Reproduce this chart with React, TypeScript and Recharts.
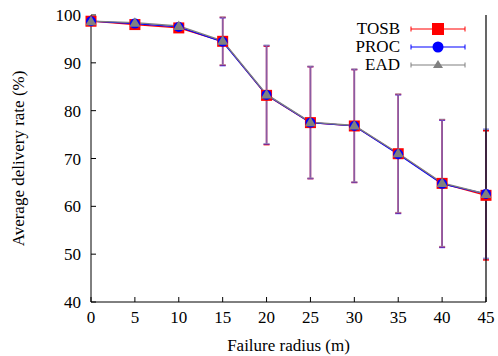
import { LineChart, Line, XAxis, YAxis, ErrorBar, Legend, ReferenceLine } from "recharts";

const radius = [0, 5, 10, 15, 20, 25, 30, 35, 40, 45];
const tosb = [98.7, 98.0, 97.3, 94.5, 83.2, 77.5, 76.8, 71.0, 64.8, 62.3];
const proc = [98.7, 98.2, 97.5, 94.4, 83.3, 77.5, 76.8, 70.9, 64.7, 62.6];
const ead = [98.7, 98.4, 97.7, 94.6, 83.4, 77.6, 76.9, 71.1, 64.9, 62.6];
const spread = [0.4, 0.5, 0.5, 5.0, 10.3, 11.7, 11.8, 12.4, 13.3, 13.5];

const xTicks = [0, 5, 10, 15, 20, 25, 30, 35, 40, 45];
const yTicks = [40, 50, 60, 70, 80, 90, 100];

const data = radius.map((r, i) => ({
  r,
  tosb: tosb[i],
  proc: proc[i],
  ead: ead[i],
  err: spread[i],
}));

const FONT = "Liberation Serif";

const XTick = (p: any) => (
  <text x={p.x} y={p.y + 12} textAnchor="middle" fontSize={17} fontFamily={FONT} fill="#000">
    {p.payload.value}
  </text>
);
const YTick = (p: any) => (
  <text x={p.x} y={p.y + 6} textAnchor="end" fontSize={17} fontFamily={FONT} fill="#000">
    {p.payload.value}
  </text>
);

const Square = (p: any) => (
  <rect key={p.index} x={p.cx - 5.5} y={p.cy - 5.5} width={11} height={11} fill="#ff0000" />
);
const Circle = (p: any) => <circle key={p.index} cx={p.cx} cy={p.cy} r={5} fill="#0000ff" />;
const Triangle = (p: any) => (
  <path key={p.index} d={`M${p.cx},${p.cy - 5.5} L${p.cx + 5.5},${p.cy + 4} L${p.cx - 5.5},${p.cy + 4} Z`} fill="#808080" />
);

const legendRows = [
  { name: "TOSB", color: "#ff0000", mark: "square" },
  { name: "PROC", color: "#0000ff", mark: "circle" },
  { name: "EAD", color: "#808080", mark: "triangle" },
];

function LegendBox() {
  return (
    <div style={{ fontFamily: FONT, fontSize: 17, color: "#000" }}>
      {legendRows.map((row) => (
        <div key={row.name} style={{ display: "flex", alignItems: "center", height: 18 }}>
          <span style={{ width: 80, textAlign: "right", lineHeight: "18px" }}>{row.name}</span>
          <svg width={66} height={18} style={{ marginLeft: 10 }}>
            <line x1={1} y1={9} x2={55} y2={9} stroke={row.color} strokeWidth={1.2} />
            <line x1={1} y1={6.5} x2={1} y2={11.5} stroke={row.color} strokeWidth={1} />
            <line x1={55} y1={6.5} x2={55} y2={11.5} stroke={row.color} strokeWidth={1} />
            {row.mark === "square" && <rect x={22} y={3} width={12} height={12} fill={row.color} />}
            {row.mark === "circle" && <circle cx={28} cy={9} r={5.5} fill={row.color} />}
            {row.mark === "triangle" && <path d="M28,4 L33,12 L23,12 Z" fill={row.color} />}
          </svg>
        </div>
      ))}
    </div>
  );
}

export default function App() {
  return (
    <div style={{ position: "absolute", left: 0, top: 0, width: 498, height: 356, background: "#fff" }}>
      <LineChart width={498} height={356} data={data} margin={{ top: 15, right: 12, left: 0, bottom: 0 }}>
        <XAxis
          dataKey="r"
          type="number"
          domain={[0, 45]}
          ticks={xTicks}
          height={54}
          stroke="#000"
          tickSize={-5}
          tickMargin={14}
          tick={XTick}
          label={{
            content: ({ viewBox }: any) => (
              <text x={viewBox.x + viewBox.width / 2} y={351} textAnchor="middle" fontSize={17} fontFamily={FONT} fill="#000">
                Failure radius (m)
              </text>
            ),
          }}
        />
        <XAxis
          xAxisId="top"
          orientation="top"
          dataKey="r"
          type="number"
          domain={[0, 45]}
          ticks={xTicks}
          height={0}
          stroke="#000"
          tickSize={-5}
          tickFormatter={() => ""}
        />
        <YAxis
          type="number"
          domain={[40, 100]}
          ticks={yTicks}
          width={91}
          stroke="#000"
          tickSize={-5}
          tickMargin={15}
          tick={YTick}
          label={{
            content: ({ viewBox }: any) => (
              <text
                x={18}
                y={viewBox.y + viewBox.height / 2}
                transform={`rotate(-90, 18, ${viewBox.y + viewBox.height / 2})`}
                textAnchor="middle"
                dominantBaseline="central"
                fontSize={17}
                fontFamily={FONT}
                fill="#000"
              >
                Average delivery rate (%)
              </text>
            ),
          }}
        />
        <YAxis
          yAxisId="right"
          orientation="right"
          type="number"
          domain={[40, 100]}
          ticks={yTicks}
          width={0}
          stroke="#000"
          tickSize={-5}
          tickFormatter={() => ""}
        />
        <Legend
          layout="vertical"
          align="center"
          verticalAlign="middle"
          content={() => <LegendBox />}
          wrapperStyle={{ position: "absolute", left: 320, top: 20, width: 160 }}
        />
        <Line dataKey="tosb" stroke="#ff0000" strokeWidth={1.3} dot={Square} activeDot={false} isAnimationActive={false}>
          <ErrorBar dataKey="err" width={3} stroke="#ff0000" strokeWidth={1.5} />
        </Line>
        <Line dataKey="proc" stroke="#0000ff" strokeWidth={1.3} dot={Circle} activeDot={false} isAnimationActive={false}>
          <ErrorBar dataKey="err" width={3} stroke="#0000ff" strokeOpacity={0.55} strokeWidth={1.5} />
        </Line>
        <Line dataKey="ead" stroke="#808080" strokeWidth={1.3} dot={Triangle} activeDot={false} isAnimationActive={false}>
          <ErrorBar dataKey="err" width={3} stroke="#9a9ab0" strokeOpacity={0.6} strokeWidth={1.5} />
        </Line>
        <ReferenceLine x={45} stroke="#000" strokeWidth={1.2} />
      </LineChart>
    </div>
  );
}
